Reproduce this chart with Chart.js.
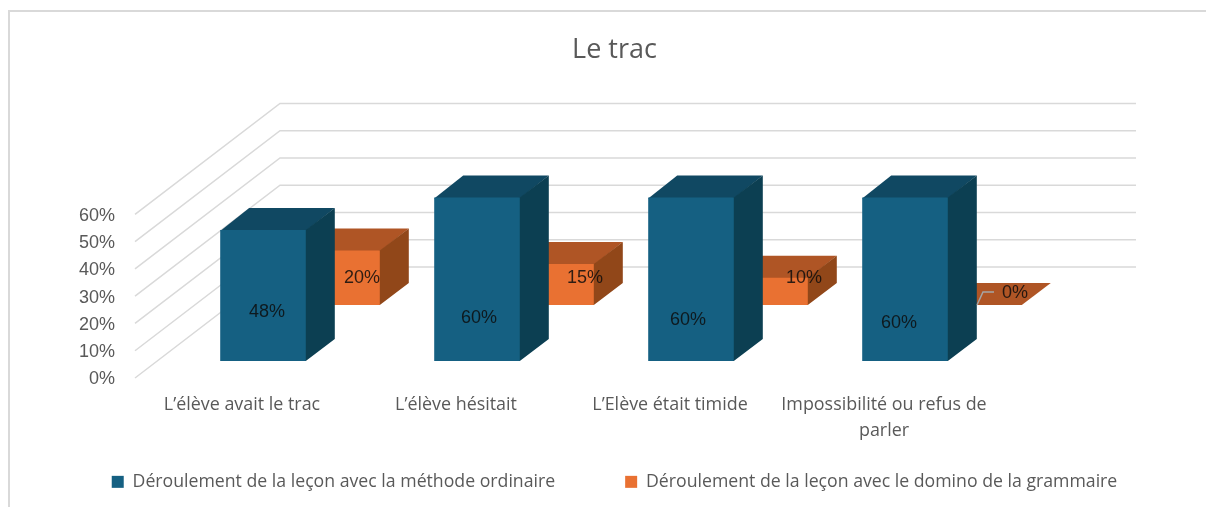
<!DOCTYPE html>
<html><head><meta charset="utf-8">
<style>html,body{margin:0;padding:0;background:#fff}canvas{display:block}</style>
<script src="https://cdn.jsdelivr.net/npm/chart.js@4"></script></head>
<body><canvas id="c" width="1206" height="507"></canvas>
<script>
const categories = ['L’élève avait le trac','L’élève hésitait','L’Elève était timide',['Impossibilité ou refus de','parler']];
const seriesNames = ['Déroulement de la leçon avec la méthode ordinaire','Déroulement de la leçon avec le domino de la grammaire'];
const ordinaire = [48,60,60,60];
const domino = [20,15,10,0];
const yTicks = [0,10,20,30,40,50,60];

const styles = [
 {front:'#156082',top:'#104862',side:'#0c3f52',shift:[21,-17]},
 {front:'#E97132',top:'#AF5525',side:'#914719',shift:[95,-73]}
];
const DEPTH=[29,-22], WALL=[145,-111], GRID='#d9d9d9';
const labelOffsets=[[[4,-49],[2,-43],[-3,-41],[-6,-38]],[[25,-27],[34,-27],[39,-27],[36,-12]]];

const plugin3d={id:'plugin3d',
 afterLayout(chart){chart.legend.top=403;},
 beforeDraw(chart){const c=chart.ctx;c.save();c.strokeStyle=GRID;c.lineWidth=2;c.beginPath();
  c.moveTo(9,507);c.lineTo(9,11);c.lineTo(1206,11);c.stroke();c.restore();},
 beforeDatasetsDraw(chart){const c=chart.ctx,ys=chart.scales.y,a=chart.chartArea;c.save();c.strokeStyle=GRID;c.lineWidth=1.5;
  yTicks.forEach(v=>{const y=ys.getPixelForValue(v);c.beginPath();c.moveTo(a.left,y);c.lineTo(a.left+WALL[0],y+WALL[1]);c.lineTo(a.right+WALL[0],y+WALL[1]);c.stroke();});c.restore();},
 beforeDatasetDraw(chart,args){const c=chart.ctx,s=styles[args.index];
  args.meta.data.forEach(b=>{const l=b.x-b.width/2+s.shift[0],r=l+b.width,t=b.y+s.shift[1],bt=b.base+s.shift[1];
   const ov=bt>t?1:0;
   c.fillStyle=s.top;c.beginPath();c.moveTo(l,t+ov);c.lineTo(l+DEPTH[0],t+DEPTH[1]);c.lineTo(r+DEPTH[0],t+DEPTH[1]);c.lineTo(r,t+ov);c.closePath();c.fill();
   if(ov){c.fillStyle=s.side;c.beginPath();c.moveTo(r-1,t);c.lineTo(r,t);c.lineTo(r+DEPTH[0],t+DEPTH[1]);c.lineTo(r+DEPTH[0],bt+DEPTH[1]);c.lineTo(r,bt);c.lineTo(r-1,bt);c.closePath();c.fill();}});
  c.save();c.translate(s.shift[0],s.shift[1]);},
 afterDatasetDraw(chart){chart.ctx.restore();},
 afterDatasetsDraw(chart){const c=chart.ctx;c.save();c.font='18px "Liberation Sans"';c.fillStyle='rgba(13,13,13,0.85)';c.textAlign='center';c.textBaseline='middle';
  [1,0].forEach(i=>{const s=styles[i],m=chart.getDatasetMeta(i);m.data.forEach((b,j)=>{const o=labelOffsets[i][j];
    const v=chart.data.datasets[i].data[j];
    c.fillText(v+'%',b.x+s.shift[0]+o[0],b.base+s.shift[1]+o[1]);
    if(v===0){const x=b.x+s.shift[0],y=b.base+s.shift[1];c.strokeStyle='#a6a6a6';c.lineWidth=1.5;c.beginPath();c.moveTo(x-2,y);c.lineTo(x+4,y-13);c.lineTo(x+15,y-13);c.stroke();}
  });});c.restore();}
};
const catFont='"Open Sans"';
new Chart(document.getElementById('c'),{type:'bar',
 data:{labels:categories,datasets:[
  {label:seriesNames[0],data:ordinaire,backgroundColor:styles[0].front,grouped:false,barPercentage:0.4,categoryPercentage:1,clip:false,borderWidth:0},
  {label:seriesNames[1],data:domino,backgroundColor:styles[1].front,grouped:false,barPercentage:0.4,categoryPercentage:1,clip:false,borderWidth:0}
 ]},
 plugins:[plugin3d],
 options:{responsive:false,animation:false,devicePixelRatio:1,
  layout:{padding:{left:23,right:0,top:0,bottom:0}},
  plugins:{tooltip:{enabled:false},
   title:{display:true,text:'Le trac',color:'#595959',font:{family:catFont,size:27,weight:'normal'},padding:{top:34,bottom:148}},
   legend:{position:'bottom',maxHeight:61,labels:{color:'#595959',font:{family:catFont,size:17.7},boxWidth:12,boxHeight:12,padding:70}}},
  scales:{
   x:{grid:{display:false,drawTicks:false},border:{display:false},ticks:{color:'#595959',font:{family:catFont,size:17.9,lineHeight:1.45},padding:14,maxRotation:0,autoSkip:false},afterFit(s){s.height=68;}},
   y:{min:0,max:60,grid:{display:false,drawTicks:false},border:{display:false},afterFit(s){s.width=112;},
    afterBuildTicks(s){s.ticks=yTicks.map(v=>({value:v}));},
    ticks:{color:'#595959',font:{family:'"Liberation Sans"',size:18},padding:20,labelOffset:1.5,callback:v=>v+'%'}},
   pad:{position:'right',display:true,grid:{display:false},border:{display:false},ticks:{display:false},afterFit(s){s.width=215;}}
  }}});
</script></body></html>
